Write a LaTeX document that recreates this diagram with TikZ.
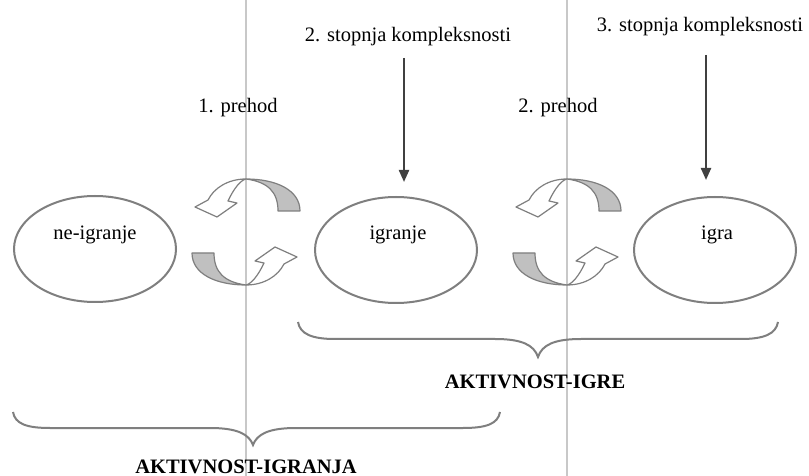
\documentclass[tikz,border=0pt]{standalone}
\usepackage{fontspec}
\setmainfont{Liberation Serif}
\usetikzlibrary{arrows.meta,shapes.geometric}
\definecolor{edge}{HTML}{7F7F7F}
\definecolor{guide}{HTML}{C8C8C8}
\definecolor{shade}{HTML}{C0C0C0}
\definecolor{ink}{HTML}{404040}

\begin{document}
\begin{tikzpicture}[x=1bp,y=-1bp,
  every node/.style={font=\fontsize{20.5bp}{24bp}\selectfont, inner sep=0pt},
  blob/.style={draw=edge, line width=2bp, ellipse, minimum width=162bp, minimum height=106bp},
  lbl/.style={anchor=base},
  headline/.style={anchor=base, font=\fontsize{20.5bp}{24bp}\selectfont\bfseries},
  down/.style={draw=ink, line width=2.2bp, -{Triangle[width=10bp,length=12bp]}},
  bracket/.style={draw=edge, line width=2bp},
  guideline/.style={draw=guide, line width=1.4bp},
  ribbon/.style={draw=edge, line width=1.2bp, line join=round},
  turn/.pic={
    \foreach \r in {0,180}{
      \begin{scope}[rotate=\r]
        % shaded back of the ribbon
        \filldraw[ribbon, fill=shade] (32,-21) -- (54,-21)
          .. controls (54,-42) and (30,-53) .. (0,-53)
          .. controls (22,-50) and (32,-40) .. cycle;
        % white front of the ribbon with its arrowhead
        \filldraw[ribbon, fill=white] (0,-53)
          .. controls (-18,-53) and (-32,-44) .. (-38,-32)
          -- (-51,-25) -- (-29,-15) -- (-9,-29) -- (-18,-31)
          .. controls (-12,-44) and (-5,-52) .. cycle;
      \end{scope}}
  }]

\fill[white] (0,0) rectangle (809,476);
\useasboundingbox (0,0) rectangle (809,476);

% vertical separators
\draw[guideline] (246,0) -- (246,476);
\draw[guideline] (567,0) -- (567,476);

% activity states
\node[blob] (neig) at (95,249) {};
\node[blob] (igr) at (396,250) {};
\node[blob] (igra) at (715,250) {};
\node[lbl] (tneig) at (95,240) {ne-igranje};
\node[lbl] (tigr) at (398,240) {igranje};
\node[lbl] (tigra) at (717,240) {igra};

% transitions
\pic at (246,232) {turn};
\pic at (567,232) {turn};
\node[lbl] (p1) at (238,113) {1. prehod};
\node[lbl] (p2) at (558,113) {2. prehod};

% complexity levels
\node[lbl] (st2) at (408,42) {2. stopnja kompleksnosti};
\node[lbl] (st3) at (700,32) {3. stopnja kompleksnosti};
\coordinate (a2) at (404,58);
\coordinate (b2) at (404,182);
\coordinate (a3) at (706,55);
\coordinate (b3) at (706,180);
\draw[down] (a2) -- (b2);
\draw[down] (a3) -- (b3);

% braces
\draw[bracket] (298,322) .. controls (300,334) and (312,339) .. (335,339)
  -- (495,339) .. controls (522,339) and (534,345) .. (538,357)
  .. controls (542,345) and (554,339) .. (581,339)
  -- (741,339) .. controls (764,339) and (776,334) .. (778,322);
\node[headline] (hig) at (535,388) {AKTIVNOST-IGRE};

\draw[bracket] (13,412) .. controls (15,424) and (27,428) .. (50,428)
  -- (210,428) .. controls (237,428) and (249,434) .. (253,445)
  .. controls (257,434) and (269,428) .. (296,428)
  -- (463,428) .. controls (486,428) and (498,424) .. (500,412);
\node[headline] (higr) at (246,473) {AKTIVNOST-IGRANJA};
\end{tikzpicture}
\end{document}
